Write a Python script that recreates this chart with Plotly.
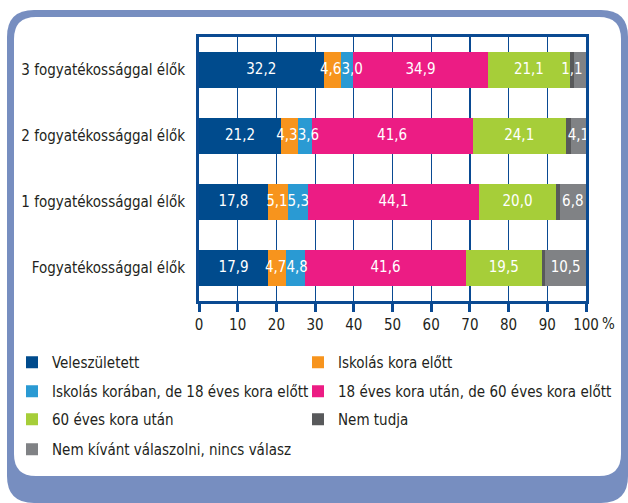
import plotly.graph_objects as go

categories = ["Fogyatékossággal élők", "1 fogyatékossággal élők",
              "2 fogyatékossággal élők", "3 fogyatékossággal élők"]

series_names = ["Veleszületett", "Iskolás kora előtt",
                "Iskolás korában, de 18 éves kora előtt",
                "18 éves kora után, de 60 éves kora előtt",
                "60 éves kora után", "Nem tudja",
                "Nem kívánt válaszolni, nincs válasz"]

veleszuletett = [17.9, 17.8, 21.2, 32.2]
iskolas_elott = [4.7, 5.1, 4.3, 4.6]
iskolas_koraban = [4.8, 5.3, 3.6, 3.0]
eves_18_60 = [41.6, 44.1, 41.6, 34.9]
eves_60_utan = [19.5, 20.0, 24.1, 21.1]
nem_tudja = [1.0, 0.9, 1.2, 1.1]
nem_kivant = [10.5, 6.8, 4.1, 3.1]

# value labels printed on bars ("" = no label)
labels_veleszuletett = ["17,9", "17,8", "21,2", "32,2"]
labels_iskolas_elott = ["4,7", "5,1", "4,3", "4,6"]
labels_iskolas_koraban = ["4,8", "5,3", "3,6", "3,0"]
labels_18_60 = ["41,6", "44,1", "41,6", "34,9"]
labels_60_utan = ["19,5", "20,0", "24,1", "21,1"]
labels_nem_tudja = ["", "", "", "1,1"]
labels_nem_kivant = ["10,5", "6,8", "4,1", ""]

tick_vals = [0, 10, 20, 30, 40, 50, 60, 70, 80, 90, 100]
tick_text = ["0", "10", "20", "30", "40", "50", "60", "70", "80", "90", "100"]

colors = ["#004B8D", "#F7941D", "#2A9AD3", "#EC1C84", "#A6CE39", "#58595B", "#808285"]
values = [veleszuletett, iskolas_elott, iskolas_koraban, eves_18_60,
          eves_60_utan, nem_tudja, nem_kivant]
labels = [labels_veleszuletett, labels_iskolas_elott, labels_iskolas_koraban,
          labels_18_60, labels_60_utan, labels_nem_tudja, labels_nem_kivant]
# where each series' label sits: segment centre, or pushed against the
# boundary it shares with its neighbour (narrow segments)
label_anchor = ["center", "end", "start", "center", "center", "center", "center"]

FONT = "DejaVu Sans Condensed, Liberation Sans Narrow, sans-serif"
FS = 15
TXT = "#231F20"
AX = "#0A4A92"
SLATE = "#778EC0"

W, H = 628, 503
L, R, T, B = 199, 42, 37, 202
pw, ph = W - L - R, H - T - B


def px(x):
    return (x - L) / pw


def py(y):
    return (H - B - y) / ph


fig = go.Figure()
legend_ids = []
for k, (name, vals, col) in enumerate(zip(series_names, values, colors)):
    lid = "legend" if k == 0 else f"legend{k + 1}"
    legend_ids.append(lid)
    fig.add_trace(go.Bar(
        y=categories, x=vals, name=name, orientation="h",
        marker=dict(color=col, line=dict(width=0)),
        legend=lid, hoverinfo="skip",
    ))

# value labels drawn on top of all bars
lab_x, lab_y, lab_t, lab_p = [], [], [], []
cum = [0.0] * len(categories)
for vals, lab, anc in zip(values, labels, label_anchor):
    for i, (v, t) in enumerate(zip(vals, lab)):
        if t:
            if anc == "end":
                lab_x.append(cum[i] + v)
                lab_p.append("middle left")
            elif anc == "start":
                lab_x.append(cum[i])
                lab_p.append("middle right")
            else:
                lab_x.append(cum[i] + v / 2)
                lab_p.append("middle center")
            lab_y.append(categories[i])
            lab_t.append(t)
        cum[i] += v
fig.add_trace(go.Scatter(
    x=lab_x, y=lab_y, text=lab_t, mode="text", textposition=lab_p,
    showlegend=False, textfont=dict(color="white", size=FS, family=FONT),
    hoverinfo="skip", cliponaxis=False,
))


def rounded(x0, y0, x1, y1, r):
    rx, ry = r / pw, r / ph
    X0, X1 = px(x0), px(x1)
    Y0, Y1 = py(y0), py(y1)  # Y0 top, Y1 bottom
    return (f"M{X0+rx},{Y0} L{X1-rx},{Y0} Q{X1},{Y0} {X1},{Y0-ry} "
            f"L{X1},{Y1+ry} Q{X1},{Y1} {X1-rx},{Y1} "
            f"L{X0+rx},{Y1} Q{X0},{Y1} {X0},{Y1+ry} "
            f"L{X0},{Y0-ry} Q{X0},{Y0} {X0+rx},{Y0} Z")


shapes = [
    dict(type="path", xref="paper", yref="paper", layer="below",
         path=rounded(7, 10, 628, 503, 27), fillcolor=SLATE, line=dict(width=0)),
    dict(type="path", xref="paper", yref="paper", layer="below",
         path=rounded(14, 17, 621, 476, 22), fillcolor="white", line=dict(width=0)),
]


def leg(left_x, center_y):
    return dict(orientation="h", x=px(left_x), xanchor="left", y=py(center_y - 17),
                yanchor="top", font=dict(family=FONT, size=FS, color=TXT),
                bgcolor="rgba(0,0,0,0)", itemclick=False, itemdoubleclick=False)


# legend grid: two columns, four rows
col_x = [12, 298]
row_y = [363, 392, 420, 450]
legend_layout = {}
for k, lid in enumerate(legend_ids):
    legend_layout[lid] = leg(col_x[k % 2], row_y[k // 2])

fig.update_layout(
    width=W, height=H,
    margin=dict(l=L, r=R, t=T, b=B, pad=0, autoexpand=False),
    paper_bgcolor="white", plot_bgcolor="white",
    barmode="stack", bargap=0.45,
    font=dict(family=FONT, size=FS, color=TXT),
    shapes=shapes,
    showlegend=True,
    xaxis=dict(range=[0, 100], tickvals=tick_vals, ticktext=tick_text,
               showgrid=True, gridcolor=AX, gridwidth=1.2,
               showline=True, linecolor=AX, linewidth=3, mirror=True,
               ticks="outside", ticklen=8, tickwidth=3, tickcolor=AX,
               zeroline=False, fixedrange=True, automargin=False,
               tickfont=dict(family=FONT, size=FS, color=TXT)),
    yaxis=dict(showline=True, linecolor=AX, linewidth=3, mirror=True,
               ticks="", showgrid=False, fixedrange=True, automargin=False,
               ticklabelstandoff=8,
               tickfont=dict(family=FONT, size=FS, color=TXT)),
    annotations=[dict(x=100, y=0, xref="x", yref="paper", text="%",
                      showarrow=False, xanchor="left", yanchor="top",
                      xshift=14, yshift=-12,
                      font=dict(family=FONT, size=FS, color=TXT))],
    **legend_layout,
)

fig.write_html("out.html",
               config={"displayModeBar": False, "staticPlot": True},
               post_script="document.body.style.margin='0px';"
                           "document.body.style.overflow='hidden';")
